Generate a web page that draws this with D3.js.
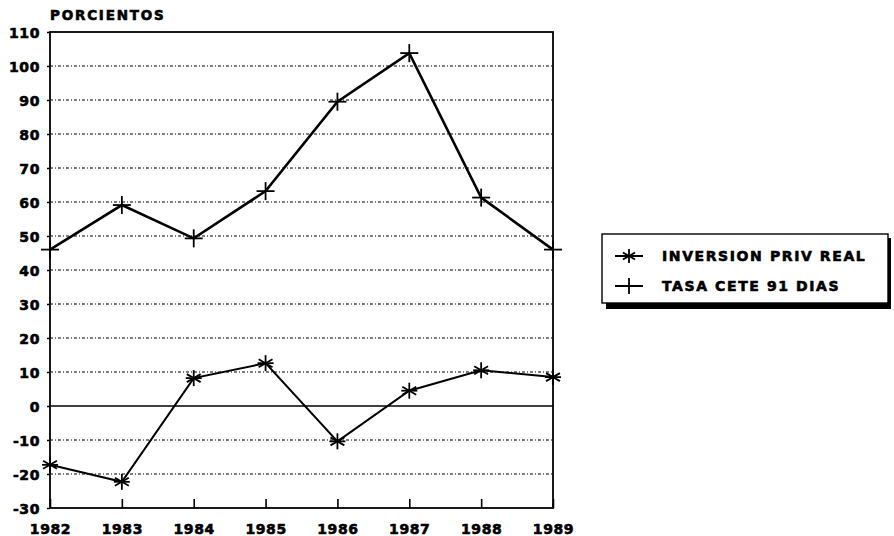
<!DOCTYPE html>
<html>
<head>
<meta charset="utf-8">
<script src="https://cdn.jsdelivr.net/npm/d3@7/dist/d3.min.js"></script>
<style>
  body { margin: 0; background: #fff; }
  svg text { font-family: "DejaVu Sans", Arial, sans-serif; font-weight: bold; fill: #000;
             stroke: #000; stroke-width: 0.6px; }
</style>
</head>
<body>
<svg id="chart" width="894" height="536"></svg>
<script>
// Años del periodo
const years = [1982, 1983, 1984, 1985, 1986, 1987, 1988, 1989];
const yearLabels = ["1982", "1983", "1984", "1985", "1986", "1987", "1988", "1989"];
// Inversión privada real (variación %)
const inversion = [-17.3, -22.3, 8.2, 12.6, -10.4, 4.5, 10.5, 8.5];
// Tasa CETE a 91 días (%)
const cete = [46, 59.1, 49.3, 63.2, 89.5, 103.8, 61.3, 46];
const yTicks = [110, 100, 90, 80, 70, 60, 50, 40, 30, 20, 10, 0, -10, -20, -30];
const seriesNames = ["INVERSION PRIV REAL", "TASA CETE 91 DIAS"];

const svg = d3.select("#chart");
const m = { left: 50, right: 553, top: 32, bottom: 508 };

const x = d3.scaleLinear().domain([1982, 1989]).range([m.left, m.right]);
const y = d3.scaleLinear().domain([-30, 110]).range([m.bottom, m.top]);

// Líneas de cuadrícula punteadas
svg.append("g").selectAll("line")
  .data(yTicks.filter(d => d !== 110 && d !== -30 && d !== 0))
  .join("line")
  .attr("x1", m.left).attr("x2", m.right)
  .attr("y1", d => y(d)).attr("y2", d => y(d))
  .attr("stroke", "#000").attr("stroke-width", 1.1)
  .attr("stroke-dasharray", "3,2,1,2");

// Línea de cero
svg.append("line")
  .attr("x1", m.left).attr("x2", m.right)
  .attr("y1", y(0)).attr("y2", y(0))
  .attr("stroke", "#000").attr("stroke-width", 1.6);

// Marco del área de trazado
svg.append("rect")
  .attr("x", m.left).attr("y", m.top)
  .attr("width", m.right - m.left).attr("height", m.bottom - m.top)
  .attr("fill", "none").attr("stroke", "#000").attr("stroke-width", 1.8);

// Eje Y
const yAxis = d3.axisLeft(y).tickValues(yTicks).tickSize(3).tickPadding(7)
  .tickFormat(d => d < 0 ? "-" + Math.abs(d) : d);
const gy = svg.append("g").attr("transform", `translate(${m.left},0)`).call(yAxis);
gy.select(".domain").remove();
gy.selectAll("line").attr("stroke", "#000").attr("stroke-width", 1.5);
gy.selectAll("text").attr("font-size", 14).attr("letter-spacing", 0.6)
  .attr("dy", "0.36em");

// Eje X con marcas hacia adentro
const xAxis = d3.axisBottom(x).tickValues(years).tickSize(-9).tickPadding(16)
  .tickFormat((d, i) => yearLabels[i]);
const gx = svg.append("g").attr("transform", `translate(0,${m.bottom})`).call(xAxis);
gx.select(".domain").remove();
gx.selectAll("line").attr("stroke", "#000").attr("stroke-width", 1.6);
gx.selectAll("text").attr("font-size", 14).attr("letter-spacing", 0.6);

// Título del eje
svg.append("text").attr("x", 50).attr("y", 20)
  .attr("font-size", 13.5).attr("letter-spacing", 1.8)
  .text("PORCIENTOS");

const line = d3.line().x((d, i) => x(years[i])).y(d => y(d));

// Marcadores
function star(g, cx, cy, r) {
  const s = g.append("g").attr("transform", `translate(${cx},${cy})`)
    .attr("stroke", "#000").attr("stroke-width", 1.8);
  [0, 60, 120].forEach(a => {
    const rad = a * Math.PI / 180;
    s.append("line")
      .attr("x1", -r * Math.sin(rad)).attr("y1", -r * Math.cos(rad))
      .attr("x2", r * Math.sin(rad)).attr("y2", r * Math.cos(rad));
  });
  s.append("line").attr("x1", -r).attr("x2", r).attr("y1", 0).attr("y2", 0);
}
function plus(g, cx, cy, r) {
  const s = g.append("g").attr("transform", `translate(${cx},${cy})`)
    .attr("stroke", "#000").attr("stroke-width", 1.8);
  s.append("line").attr("x1", -r).attr("x2", r).attr("y1", 0).attr("y2", 0);
  s.append("line").attr("x1", 0).attr("x2", 0).attr("y1", -r).attr("y2", r);
}

// Serie: inversión privada real
svg.append("path").datum(inversion).attr("d", line)
  .attr("fill", "none").attr("stroke", "#000").attr("stroke-width", 2);
const gInv = svg.append("g");
inversion.forEach((v, i) => star(gInv, x(years[i]), y(v), 8));

// Serie: tasa CETE
svg.append("path").datum(cete).attr("d", line)
  .attr("fill", "none").attr("stroke", "#000").attr("stroke-width", 2.6);
const gCete = svg.append("g");
cete.forEach((v, i) => plus(gCete, x(years[i]), y(v), 9));

// Leyenda con sombra
const lg = svg.append("g");
lg.append("rect").attr("x", 606).attr("y", 238).attr("width", 285).attr("height", 71)
  .attr("fill", "#000");
lg.append("rect").attr("x", 602).attr("y", 234).attr("width", 286).attr("height", 69)
  .attr("fill", "#fff").attr("stroke", "#000").attr("stroke-width", 1.4);

const rows = [256, 286];
rows.forEach((ry, i) => {
  lg.append("line").attr("x1", 615).attr("x2", 643).attr("y1", ry).attr("y2", ry)
    .attr("stroke", "#000").attr("stroke-width", 2);
  if (i === 0) star(lg, 629, ry, 7); else plus(lg, 629, ry, 8);
  lg.append("text").attr("x", 662).attr("y", ry).attr("dy", "0.36em")
    .attr("font-size", 14).attr("letter-spacing", 1.6)
    .text(seriesNames[i]);
});
</script>
</body>
</html>
